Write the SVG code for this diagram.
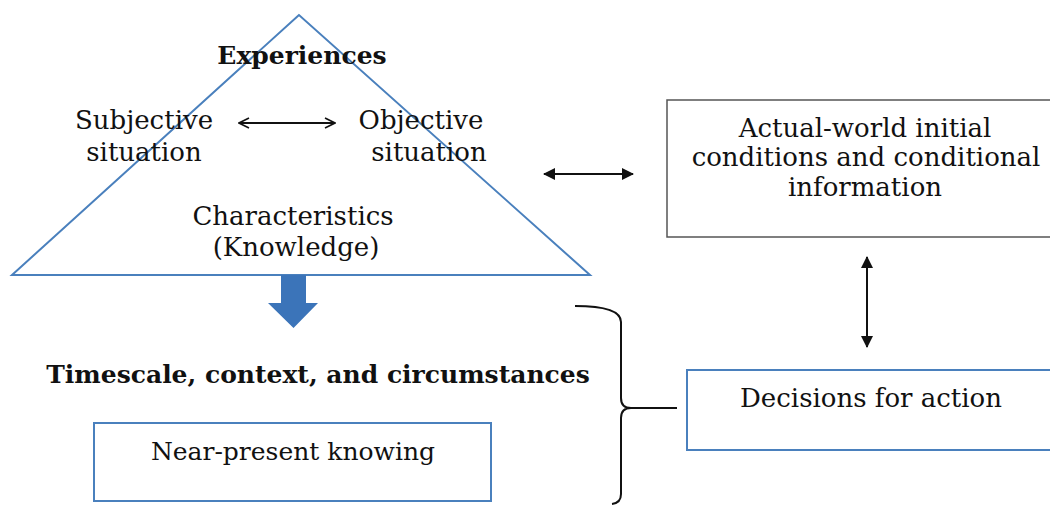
<svg xmlns="http://www.w3.org/2000/svg" width="1050" height="506" viewBox="0 0 1050 506">
<defs>
<style>
.t{font-family:"DejaVu Serif","Liberation Serif",serif;fill:#111;text-anchor:middle;font-size:26px}
.b{font-weight:bold;font-size:25px}
.blue{fill:none;stroke:#4a80bd;stroke-width:2}
.gray{fill:none;stroke:#555;stroke-width:1.5}
.conn{fill:none;stroke:#111;stroke-width:2}
</style>
<marker id="open" viewBox="0 0 12 12" refX="11" refY="6" markerWidth="12" markerHeight="12" markerUnits="userSpaceOnUse" orient="auto-start-reverse">
<path d="M1,1 L11,6 L1,11" fill="none" stroke="#111" stroke-width="1.6"/>
</marker>
<marker id="fill" viewBox="0 0 12 12" refX="11" refY="6" markerWidth="12" markerHeight="12" markerUnits="userSpaceOnUse" orient="auto-start-reverse">
<path d="M0,0 L12,6 L0,12 Z" fill="#111"/>
</marker>
</defs>
<rect width="1050" height="506" fill="#fff"/>
<g id="experiences">
<polygon class="blue" points="299,15 12,275 590,275"/>
<text class="t b" x="302" y="64">Experiences</text>
<text class="t" x="144" y="129">Subjective</text>
<text class="t" x="144" y="161">situation</text>
<text class="t" x="421" y="129">Objective</text>
<text class="t" x="429" y="161">situation</text>
<text class="t" x="293" y="225">Characteristics</text>
<text class="t" x="296" y="256">(Knowledge)</text>
</g>
<g id="timescale">
<text class="t b" x="318" y="383">Timescale, context, and circumstances</text>
</g>
<g id="near-present">
<rect class="blue" x="94" y="423" width="397" height="78"/>
<text class="t" x="293" y="460" style="font-size:25px">Near-present knowing</text>
</g>
<g id="actual-world">
<rect class="gray" x="667" y="100" width="390" height="137"/>
<text class="t" x="865" y="137">Actual-world initial</text>
<text class="t" x="866" y="166">conditions and conditional</text>
<text class="t" x="865" y="196">information</text>
</g>
<g id="decisions">
<rect class="blue" x="687" y="370" width="370" height="80"/>
<text class="t" x="871" y="407">Decisions for action</text>
</g>
<g id="connectors">
<line class="conn" x1="239" y1="123" x2="335" y2="123" stroke-width="1.6" marker-start="url(#open)" marker-end="url(#open)"/>
<line class="conn" x1="544" y1="174" x2="633" y2="174" marker-start="url(#fill)" marker-end="url(#fill)"/>
<line class="conn" x1="867" y1="257" x2="867" y2="347" marker-start="url(#fill)" marker-end="url(#fill)"/>
<path d="M281,275 H306 V303 H318 L293.5,328 L268,303 H281 Z" fill="#3b74b9"/>
<path class="conn" stroke-width="1.5" d="M575,306 Q621,306 621,322 V398 Q621,408 631,408 M677,408 H631 Q621,408 621,418 V494 Q621,503 612,504"/>
</g>
</svg>
